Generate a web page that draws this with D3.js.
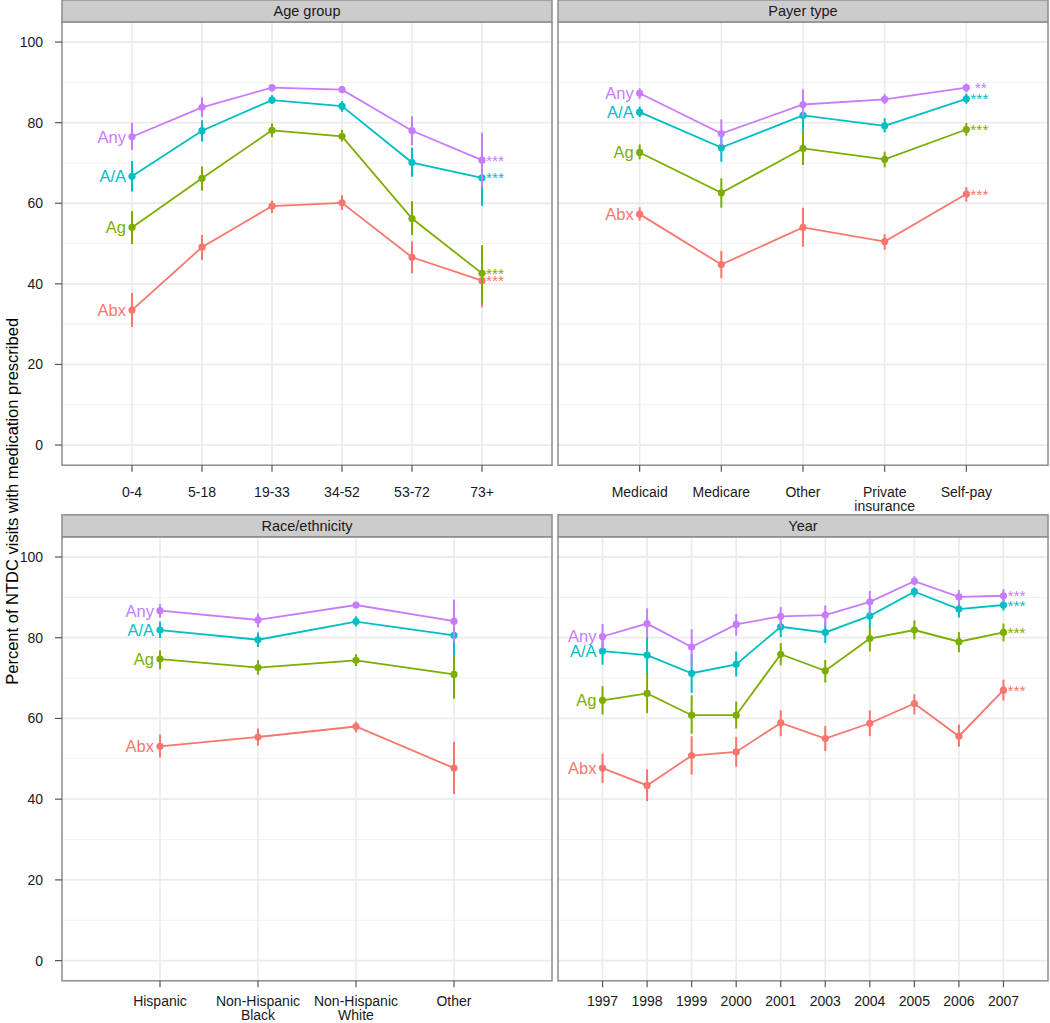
<!DOCTYPE html>
<html><head><meta charset="utf-8">
<script src="https://cdn.jsdelivr.net/npm/d3@7"></script>
<style>
body{margin:0;background:#fff}
svg{display:block}
text{font-family:"Liberation Sans",Arial,Helvetica,sans-serif}
</style>
</head><body>
<svg id="c" width="1050" height="1023"></svg>
<script>
// ---------- data ----------
const seriesNames = ["Abx", "Ag", "A/A", "Any"];
const seriesColors = ["#F8766D", "#7CAE00", "#00BFC4", "#C77CFF"];
const yTicks = [0, 20, 40, 60, 80, 100];
const yMinor = [10, 30, 50, 70, 90];
const yTitle = "Percent of NTDC visits with medication prescribed";

// each entry: [estimate, lower, upper]
const ageGroups = ["0-4", "5-18", "19-33", "34-52", "53-72", "73+"];
const ageAbx = [[33.5,29.3,37.7],[49.1,45.9,52.1],[59.3,57.6,60.6],[60.1,58.3,62.0],[46.6,42.6,50.6],[40.8,34.2,47.4]];
const ageAg  = [[54.0,49.9,58.1],[66.2,63.1,69.1],[78.1,76.4,79.8],[76.6,75.3,78.2],[56.2,52.1,60.5],[42.6,35.2,49.6]];
const ageAA  = [[66.7,62.9,70.5],[78.0,75.3,80.6],[85.6,84.6,86.8],[84.1,82.7,85.4],[70.1,66.6,73.8],[66.3,59.4,73.2]];
const ageAny = [[76.5,73.2,80.0],[83.8,81.4,86.3],[88.7,87.7,89.6],[88.2,87.4,89.1],[78.0,74.4,81.6],[70.7,64.0,77.5]];
const ageStars = ["***", "***", "***", "***"];

const payerTypes = ["Medicaid", "Medicare", "Other", "Private\ninsurance", "Self-pay"];
const payerAbx = [[57.3,55.7,59.0],[44.8,41.4,48.2],[54.0,49.2,58.9],[50.5,48.5,52.3],[62.3,60.4,64.0]];
const payerAg  = [[72.6,70.9,74.6],[62.6,58.9,66.2],[73.6,69.5,77.9],[70.9,68.9,72.8],[78.3,76.8,79.9]];
const payerAA  = [[82.6,81.4,84.0],[73.8,70.3,77.3],[81.8,78.0,85.6],[79.2,77.6,81.1],[85.9,84.7,87.2]];
const payerAny = [[87.3,85.9,88.5],[77.3,74.4,80.8],[84.5,81.5,88.3],[85.8,84.6,87.1],[88.7,87.5,89.7]];
const payerStars = ["***", "***", "***", " **"];

const raceGroups = ["Hispanic", "Non-Hispanic\nBlack", "Non-Hispanic\nWhite", "Other"];
const raceAbx = [[53.1,50.3,56.0],[55.4,53.3,57.5],[58.0,56.6,59.2],[47.7,41.3,54.2]];
const raceAg  = [[74.7,72.2,76.9],[72.6,70.8,74.4],[74.4,73.0,75.9],[70.9,64.9,75.5]];
const raceAA  = [[81.9,79.9,84.0],[79.5,77.7,81.3],[84.0,82.8,85.3],[80.6,75.5,85.7]];
const raceAny = [[86.7,85.0,88.3],[84.4,82.5,86.0],[88.1,87.5,88.7],[84.1,78.8,89.4]];
const raceStars = ["", "", "", ""];

const years = ["1997","1998","1999","2000","2001","2003","2004","2005","2006","2007"];
const yearAbx = [[47.7,44.0,51.3],[43.4,39.5,47.4],[50.8,46.1,55.6],[51.7,48.0,55.4],[58.9,55.6,62.0],[55.0,51.9,58.1],[58.8,55.6,62.0],[63.7,61.0,66.0],[55.6,53.0,58.5],[67.0,64.4,69.6]];
const yearAg  = [[64.5,61.0,68.0],[66.2,61.3,71.1],[60.8,56.2,65.7],[60.8,57.5,64.2],[75.9,73.2,78.7],[71.8,68.9,74.5],[79.8,76.6,82.9],[81.9,79.6,84.3],[79.0,76.4,81.4],[81.3,79.1,83.5]];
const yearAA  = [[76.7,73.3,80.1],[75.7,71.0,80.3],[71.2,66.3,76.0],[73.4,70.4,76.6],[82.7,80.1,85.2],[81.3,78.7,83.9],[85.4,82.5,88.3],[91.4,90.0,92.5],[87.1,85.0,88.7],[88.1,86.7,89.6]];
const yearAny = [[80.3,77.3,83.4],[83.5,80.1,87.3],[77.7,73.0,82.1],[83.3,80.5,85.9],[85.3,82.5,87.6],[85.6,82.8,88.0],[88.9,85.8,91.6],[94.0,92.9,95.2],[90.1,88.1,91.8],[90.4,88.7,92.0]];
const yearStars = ["***", "***", "***", "***"];

// ---------- layout ----------
const panels = [
  {title:"Age group", cats:ageGroups, series:[ageAbx,ageAg,ageAA,ageAny], stars:ageStars, x0:62, x1:552, y0:21.9, y1:465.2, yAxis:true, labY:492},
  {title:"Payer type", cats:payerTypes, series:[payerAbx,payerAg,payerAA,payerAny], stars:payerStars, x0:558, x1:1048, y0:21.9, y1:465.2, yAxis:false, labY:492},
  {title:"Race/ethnicity", cats:raceGroups, series:[raceAbx,raceAg,raceAA,raceAny], stars:raceStars, x0:62, x1:552, y0:536.8, y1:980.8, yAxis:true, labY:1000.5},
  {title:"Year", cats:years, series:[yearAbx,yearAg,yearAA,yearAny], stars:yearStars, x0:558, x1:1048, y0:536.8, y1:980.8, yAxis:false, labY:1000.5}
];
const stripH = 22;

const svg = d3.select("#c");

panels.forEach(p => {
  const x = d3.scalePoint().domain(p.cats).range([p.x0, p.x1]).padding(1);
  const y = d3.scaleLinear().domain([-5, 105]).range([p.y1, p.y0]);
  const g = svg.append("g");

  // background
  g.append("rect").attr("x", p.x0).attr("y", p.y0).attr("width", p.x1 - p.x0).attr("height", p.y1 - p.y0).attr("fill", "#fff");

  // grid
  g.selectAll(".minor").data(yMinor).join("line")
    .attr("x1", p.x0).attr("x2", p.x1).attr("y1", d => y(d)).attr("y2", d => y(d))
    .attr("stroke", "#f2f2f2").attr("stroke-width", 1.1);
  g.selectAll(".major").data(yTicks).join("line")
    .attr("x1", p.x0).attr("x2", p.x1).attr("y1", d => y(d)).attr("y2", d => y(d))
    .attr("stroke", "#ebebeb").attr("stroke-width", 1.8);
  g.selectAll(".vgrid").data(p.cats).join("line")
    .attr("x1", d => x(d)).attr("x2", d => x(d)).attr("y1", p.y0).attr("y2", p.y1)
    .attr("stroke", "#ebebeb").attr("stroke-width", 1.6);

  // lines
  const line = d3.line().x((d, i) => x(p.cats[i])).y(d => y(d[0]));
  p.series.forEach((s, si) => {
    g.append("path").datum(s).attr("d", line).attr("fill", "none")
      .attr("stroke", seriesColors[si]).attr("stroke-width", 1.8);
  });
  // point ranges
  p.series.forEach((s, si) => {
    const gs = g.append("g");
    gs.selectAll("line").data(s).join("line")
      .attr("x1", (d, i) => x(p.cats[i])).attr("x2", (d, i) => x(p.cats[i]))
      .attr("y1", d => y(d[1])).attr("y2", d => y(d[2]))
      .attr("stroke", seriesColors[si]).attr("stroke-width", 2);
    gs.selectAll("circle").data(s).join("circle")
      .attr("cx", (d, i) => x(p.cats[i])).attr("cy", d => y(d[0])).attr("r", 3.6)
      .attr("fill", seriesColors[si]);
  });

  // series labels (left) and stars (right)
  p.series.forEach((s, si) => {
    g.append("text").attr("x", x(p.cats[0]) - 6).attr("y", y(s[0][0])).attr("dy", "0.36em")
      .attr("text-anchor", "end").attr("font-size", 16.5).attr("fill", seriesColors[si])
      .text(seriesNames[si]);
    const last = s[s.length - 1];
    if (p.stars[si]) {
      g.append("text").attr("x", x(p.cats[p.cats.length - 1]) + 4).attr("y", y(last[0])).attr("dy", "0.36em")
        .attr("font-size", 15.5).attr("fill", seriesColors[si]).style("white-space", "pre")
        .text(p.stars[si]);
    }
  });

  // border
  g.append("rect").attr("x", p.x0).attr("y", p.y0).attr("width", p.x1 - p.x0).attr("height", p.y1 - p.y0)
    .attr("fill", "none").attr("stroke", "#8c8c8c").attr("stroke-width", 1.5);

  // strip
  g.append("rect").attr("x", p.x0).attr("y", p.y0 - stripH).attr("width", p.x1 - p.x0).attr("height", stripH)
    .attr("fill", "#cccccc").attr("stroke", "#8c8c8c").attr("stroke-width", 1.5);
  g.append("text").attr("x", (p.x0 + p.x1) / 2).attr("y", p.y0 - stripH / 2).attr("dy", "0.36em")
    .attr("text-anchor", "middle").attr("font-size", 14.5).attr("fill", "#1a1a1a").text(p.title);

  // x axis
  const xa = g.append("g");
  xa.selectAll("line").data(p.cats).join("line")
    .attr("x1", d => x(d)).attr("x2", d => x(d)).attr("y1", p.y1).attr("y2", p.y1 + 6.5)
    .attr("stroke", "#555").attr("stroke-width", 1.2);
  xa.selectAll("text").data(p.cats).join("text")
    .attr("x", d => x(d)).attr("y", p.labY)
    .attr("text-anchor", "middle").attr("font-size", 14).attr("fill", "#1a1a1a")
    .each(function(d) {
      const lines = d.split("\n");
      d3.select(this).selectAll("tspan").data(lines).join("tspan")
        .attr("x", x(d)).attr("dy", (l, i) => i === 0 ? "0.36em" : "1.0em").text(l => l);
    });

  // y axis
  if (p.yAxis) {
    const ya = g.append("g");
    ya.selectAll("line").data(yTicks).join("line")
      .attr("x1", p.x0 - 7).attr("x2", p.x0).attr("y1", d => y(d)).attr("y2", d => y(d))
      .attr("stroke", "#555").attr("stroke-width", 1.2);
    ya.selectAll("text").data(yTicks).join("text")
      .attr("x", p.x0 - 19).attr("y", d => y(d)).attr("dy", "0.36em")
      .attr("text-anchor", "end").attr("font-size", 14).attr("fill", "#1a1a1a").text(d => d);
  }
});

// y title
svg.append("text").attr("transform", "translate(18," + ((21.9 + 980.8) / 2) + ") rotate(-90)")
  .attr("text-anchor", "middle").attr("font-size", 16.5).attr("fill", "#000").text(yTitle);
</script>
</body></html>
